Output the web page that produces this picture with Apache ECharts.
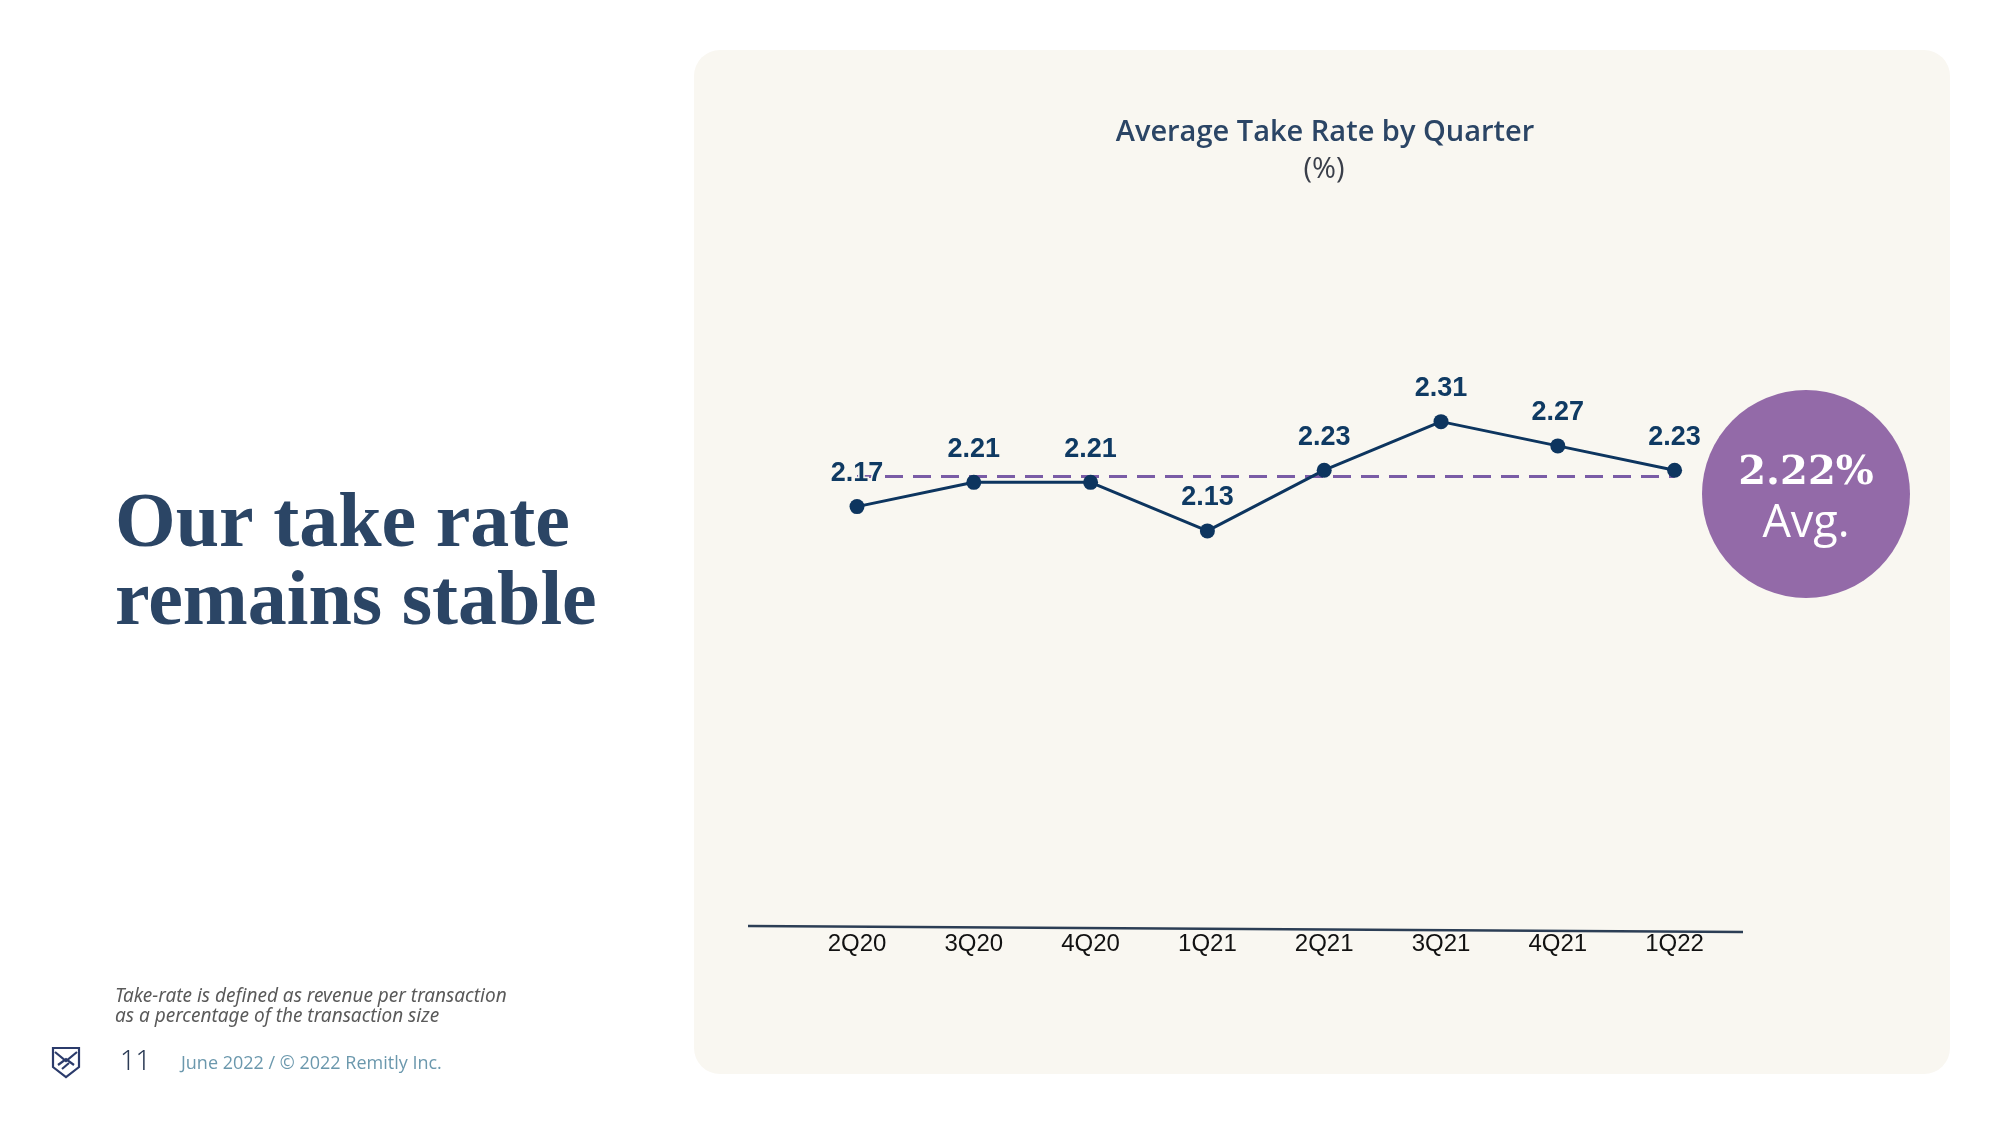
<!DOCTYPE html>
<html>
<head>
<meta charset="utf-8">
<script src="https://cdn.jsdelivr.net/npm/echarts@6/dist/echarts.min.js"></script>
<style>
  html, body { margin: 0; padding: 0; background: #ffffff; }
  #panel { position: absolute; left: 694px; top: 50px; width: 1256px; height: 1024px; border-radius: 26px; background: #f9f7f1; }
  #chart { position: absolute; left: 0; top: 0; width: 2000px; height: 1125px; }
</style>
</head>
<body>
<div id="panel"></div>
<div id="chart"></div>
<script>
const categories = ['2Q20', '3Q20', '4Q20', '1Q21', '2Q21', '3Q21', '4Q21', '1Q22'];
const takeRate = [2.17, 2.21, 2.21, 2.13, 2.23, 2.31, 2.27, 2.23];
const averageRate = 2.22;
const averageText = '2.22%';
const averageWord = 'Avg.';
const chartTitle = 'Average Take Rate by Quarter';
const chartSubtitle = '(%)';
const headline = ['Our take rate', 'remains stable'];
const footnote = ['Take-rate is defined as revenue per transaction', 'as a percentage of the transaction size'];
const pageNumber = '11';
const footerText = 'June 2022 / \u00A9 2022 Remitly Inc.';

const navy = '#0d355f';
const slate = '#2b4565';
const purple = '#7a5ca6';

const chart = echarts.init(document.getElementById('chart'), null, { renderer: 'canvas' });

const logoStroke = { fill: 'none', stroke: '#2b3b6b', lineWidth: 2.2 };

const option = {
  backgroundColor: 'transparent',
  animation: false,
  grid: { left: 798.6, top: 367, width: 934.4, height: 558.4 },
  xAxis: {
    type: 'category',
    data: categories,
    boundaryGap: true,
    axisLine: { show: false },
    axisTick: { show: false },
    axisLabel: {
      margin: 7,
      fontFamily: '"Liberation Sans", Arial, sans-serif',
      fontSize: 24,
      color: '#111111'
    },
    splitLine: { show: false }
  },
  yAxis: {
    type: 'value',
    min: 1.48,
    max: 2.4,
    show: false,
    splitLine: { show: false }
  },
  series: [{
    type: 'line',
    data: takeRate,
    symbol: 'circle',
    symbolSize: 15,
    lineStyle: { color: navy, width: 3 },
    itemStyle: { color: navy },
    z: 5,
    label: {
      show: true,
      position: 'top',
      distance: 12,
      formatter: (p) => p.value.toFixed(2),
      fontFamily: '"Liberation Sans", Arial, sans-serif',
      fontWeight: 'bold',
      fontSize: 27,
      color: '#0f3a63',
      textBorderColor: '#f9f7f1',
      textBorderWidth: 3
    },
    markLine: {
      silent: true,
      symbol: 'none',
      label: { show: false },
      lineStyle: { color: purple, width: 3, type: [18, 10] },
      z: 3,
      data: [[
        { coord: [categories[0], averageRate] },
        { coord: [categories[categories.length - 1], averageRate] }
      ]]
    }
  }],
  graphic: [
    { type: 'line', shape: { x1: 748, y1: 926, x2: 1743, y2: 932 }, style: { stroke: '#2c3e55', lineWidth: 2.5 } },
    { type: 'text', x: 1325, y: 133, style: { text: chartTitle, fill: slate, font: '600 29px "Open Sans", "Noto Sans", sans-serif', align: 'center', verticalAlign: 'middle' } },
    { type: 'text', x: 1324, y: 170, style: { text: chartSubtitle, fill: '#3a3f4a', font: '400 29px "Open Sans", "Noto Sans", sans-serif', align: 'center', verticalAlign: 'middle' } },
    { type: 'circle', shape: { cx: 1806, cy: 494, r: 104 }, style: { fill: '#936aa8' } },
    { type: 'text', x: 1806, y: 474, style: { text: averageText, fill: '#ffffff', font: 'bold 40px "DejaVu Serif", "Liberation Serif", serif', align: 'center', verticalAlign: 'middle' } },
    { type: 'text', x: 1806, y: 524, style: { text: averageWord, fill: '#ffffff', font: '400 45px "Open Sans", "Noto Sans", sans-serif', align: 'center', verticalAlign: 'middle' } },
    { type: 'text', x: 115, y: 526, style: { text: headline[0], fill: slate, font: 'bold 78px "Liberation Serif", "DejaVu Serif", serif', align: 'left', verticalAlign: 'middle' } },
    { type: 'text', x: 115, y: 604, style: { text: headline[1], fill: slate, font: 'bold 78px "Liberation Serif", "DejaVu Serif", serif', align: 'left', verticalAlign: 'middle' } },
    { type: 'text', x: 115, y: 997, style: { text: footnote[0], fill: '#5a5a5a', font: 'italic 19px "Noto Sans", "Open Sans", sans-serif', align: 'left', verticalAlign: 'middle' } },
    { type: 'text', x: 115, y: 1017, style: { text: footnote[1], fill: '#5a5a5a', font: 'italic 19px "Noto Sans", "Open Sans", sans-serif', align: 'left', verticalAlign: 'middle' } },
    { type: 'polygon', shape: { points: [[53, 1048], [79, 1048], [79, 1067], [66, 1077], [53, 1067]] }, style: logoStroke },
    { type: 'polyline', shape: { points: [[55, 1052], [66, 1061], [77, 1052]] }, style: logoStroke },
    { type: 'polyline', shape: { points: [[58, 1065], [66, 1059], [74, 1065]] }, style: logoStroke },
    { type: 'polyline', shape: { points: [[62, 1069], [69, 1063]] }, style: logoStroke },
    { type: 'text', x: 120, y: 1062, style: { text: pageNumber, fill: '#2b3b55', font: '300 27px "Noto Sans", "Open Sans", sans-serif', align: 'left', verticalAlign: 'middle' } },
    { type: 'text', x: 181, y: 1064, style: { text: footerText, fill: '#6b98ad', font: '400 18px "Open Sans", "Noto Sans", sans-serif', align: 'left', verticalAlign: 'middle' } }
  ]
};

chart.setOption(option);
</script>
</body>
</html>
